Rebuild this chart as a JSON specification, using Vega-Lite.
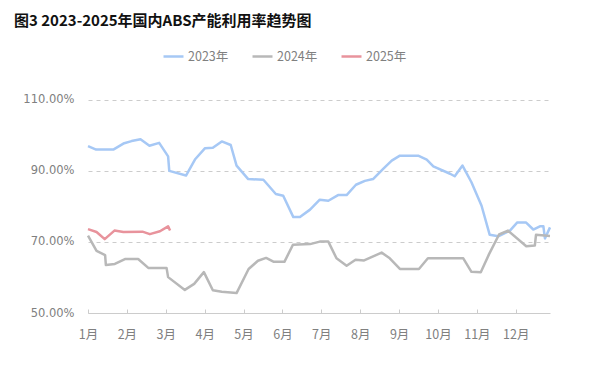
{
  "$schema": "https://vega.github.io/schema/vega-lite/v6.json",
  "autosize": "none",
  "width": 462,
  "height": 238,
  "padding": {"left": 88, "top": 75, "right": 50, "bottom": 60},
  "background": "white",
  "title": {
    "text": "图3 2023-2025年国内ABS产能利用率趋势图",
    "anchor": "start",
    "frame": "group",
    "dx": -74,
    "offset": 16,
    "font": "Noto Sans CJK SC",
    "fontSize": 15,
    "fontWeight": "bold",
    "color": "#111111"
  },
  "config": {
    "view": {"stroke": null},
    "font": "Noto Sans CJK SC"
  },
  "data": {
    "values": [
      {"year": "2023年", "t": 0.0, "v": 97.0},
      {"year": "2023年", "t": 0.21, "v": 96.0},
      {"year": "2023年", "t": 0.65, "v": 96.0},
      {"year": "2023年", "t": 0.91, "v": 97.7},
      {"year": "2023年", "t": 1.12, "v": 98.4},
      {"year": "2023年", "t": 1.35, "v": 98.9},
      {"year": "2023年", "t": 1.58, "v": 97.1},
      {"year": "2023年", "t": 1.83, "v": 97.9},
      {"year": "2023年", "t": 2.06, "v": 94.1},
      {"year": "2023年", "t": 2.09, "v": 90.0},
      {"year": "2023年", "t": 2.52, "v": 88.7},
      {"year": "2023年", "t": 2.75, "v": 93.2},
      {"year": "2023年", "t": 3.01, "v": 96.4},
      {"year": "2023年", "t": 3.21, "v": 96.5},
      {"year": "2023年", "t": 3.44, "v": 98.3},
      {"year": "2023年", "t": 3.67, "v": 97.3},
      {"year": "2023年", "t": 3.82, "v": 91.5},
      {"year": "2023年", "t": 4.12, "v": 87.7},
      {"year": "2023年", "t": 4.51, "v": 87.5},
      {"year": "2023年", "t": 4.83, "v": 83.5},
      {"year": "2023年", "t": 5.02, "v": 83.0},
      {"year": "2023年", "t": 5.28, "v": 77.0},
      {"year": "2023年", "t": 5.45, "v": 77.0},
      {"year": "2023年", "t": 5.71, "v": 79.1},
      {"year": "2023年", "t": 5.96, "v": 81.9},
      {"year": "2023年", "t": 6.18, "v": 81.6},
      {"year": "2023年", "t": 6.43, "v": 83.2},
      {"year": "2023年", "t": 6.65, "v": 83.2},
      {"year": "2023年", "t": 6.89, "v": 86.1},
      {"year": "2023年", "t": 7.12, "v": 87.2},
      {"year": "2023年", "t": 7.33, "v": 87.7},
      {"year": "2023年", "t": 7.59, "v": 90.6},
      {"year": "2023年", "t": 7.81, "v": 92.9},
      {"year": "2023年", "t": 8.02, "v": 94.3},
      {"year": "2023年", "t": 8.49, "v": 94.3},
      {"year": "2023年", "t": 8.71, "v": 93.2},
      {"year": "2023年", "t": 8.88, "v": 91.3},
      {"year": "2023年", "t": 9.31, "v": 89.2},
      {"year": "2023年", "t": 9.43, "v": 88.5},
      {"year": "2023年", "t": 9.63, "v": 91.5},
      {"year": "2023年", "t": 9.86, "v": 86.8},
      {"year": "2023年", "t": 10.12, "v": 80.2},
      {"year": "2023年", "t": 10.33, "v": 72.0},
      {"year": "2023年", "t": 10.55, "v": 71.6},
      {"year": "2023年", "t": 10.85, "v": 73.2},
      {"year": "2023年", "t": 11.04, "v": 75.5},
      {"year": "2023年", "t": 11.26, "v": 75.5},
      {"year": "2023年", "t": 11.45, "v": 73.5},
      {"year": "2023年", "t": 11.62, "v": 74.4},
      {"year": "2023年", "t": 11.71, "v": 74.4},
      {"year": "2023年", "t": 11.75, "v": 71.0},
      {"year": "2023年", "t": 11.88, "v": 74.1},
      {"year": "2024年", "t": 0.0, "v": 71.8},
      {"year": "2024年", "t": 0.22, "v": 67.5},
      {"year": "2024年", "t": 0.44, "v": 66.3},
      {"year": "2024年", "t": 0.46, "v": 63.5},
      {"year": "2024年", "t": 0.69, "v": 63.8},
      {"year": "2024年", "t": 0.95, "v": 65.2},
      {"year": "2024年", "t": 1.29, "v": 65.2},
      {"year": "2024年", "t": 1.55, "v": 62.7},
      {"year": "2024年", "t": 2.02, "v": 62.7},
      {"year": "2024年", "t": 2.06, "v": 60.1},
      {"year": "2024年", "t": 2.49, "v": 56.5},
      {"year": "2024年", "t": 2.73, "v": 58.2},
      {"year": "2024年", "t": 2.98, "v": 61.5},
      {"year": "2024年", "t": 3.21, "v": 56.4},
      {"year": "2024年", "t": 3.44, "v": 56.0},
      {"year": "2024年", "t": 3.82, "v": 55.6},
      {"year": "2024年", "t": 4.13, "v": 62.4},
      {"year": "2024年", "t": 4.37, "v": 64.7},
      {"year": "2024年", "t": 4.58, "v": 65.5},
      {"year": "2024年", "t": 4.78, "v": 64.4},
      {"year": "2024年", "t": 5.05, "v": 64.4},
      {"year": "2024年", "t": 5.27, "v": 69.2},
      {"year": "2024年", "t": 5.71, "v": 69.4},
      {"year": "2024年", "t": 5.96, "v": 70.1},
      {"year": "2024年", "t": 6.18, "v": 70.1},
      {"year": "2024年", "t": 6.39, "v": 65.4},
      {"year": "2024年", "t": 6.65, "v": 63.3},
      {"year": "2024年", "t": 6.88, "v": 65.0},
      {"year": "2024年", "t": 7.10, "v": 64.8},
      {"year": "2024年", "t": 7.55, "v": 67.0},
      {"year": "2024年", "t": 7.76, "v": 65.4},
      {"year": "2024年", "t": 8.02, "v": 62.4},
      {"year": "2024年", "t": 8.51, "v": 62.4},
      {"year": "2024年", "t": 8.74, "v": 65.4},
      {"year": "2024年", "t": 9.65, "v": 65.4},
      {"year": "2024年", "t": 9.86, "v": 61.6},
      {"year": "2024年", "t": 10.10, "v": 61.5},
      {"year": "2024年", "t": 10.31, "v": 66.5},
      {"year": "2024年", "t": 10.57, "v": 72.1},
      {"year": "2024年", "t": 10.80, "v": 73.2},
      {"year": "2024年", "t": 11.27, "v": 68.8},
      {"year": "2024年", "t": 11.49, "v": 69.0},
      {"year": "2024年", "t": 11.52, "v": 72.0},
      {"year": "2024年", "t": 11.88, "v": 71.7},
      {"year": "2025年", "t": 0.0, "v": 73.6},
      {"year": "2025年", "t": 0.22, "v": 72.8},
      {"year": "2025年", "t": 0.43, "v": 70.8},
      {"year": "2025年", "t": 0.68, "v": 73.2},
      {"year": "2025年", "t": 0.91, "v": 72.8},
      {"year": "2025年", "t": 1.40, "v": 72.9},
      {"year": "2025年", "t": 1.59, "v": 72.2},
      {"year": "2025年", "t": 1.85, "v": 73.0},
      {"year": "2025年", "t": 2.06, "v": 74.4},
      {"year": "2025年", "t": 2.11, "v": 73.2}
    ]
  },
  "mark": {"type": "line", "strokeWidth": 2.5, "strokeJoin": "round"},
  "encoding": {
    "x": {
      "field": "t",
      "type": "quantitative",
      "scale": {"domain": [0, 11.88], "nice": false, "zero": false},
      "axis": {
        "title": null,
        "values": [0, 1, 2, 3, 4, 5, 6, 7, 8, 9, 10, 11],
        "labelExpr": "(datum.value + 1) + '月'",
        "labelFlush": false,
        "grid": false,
        "domainColor": "#cccccc",
        "domainWidth": 1,
        "tickColor": "#cccccc",
        "tickSize": -4,
        "labelPadding": 19,
        "labelFontSize": 12.5,
        "labelColor": "#808080",
        "labelFont": "Noto Sans CJK SC"
      }
    },
    "y": {
      "field": "v",
      "type": "quantitative",
      "scale": {"domain": [50, 117], "nice": false, "zero": false},
      "axis": {
        "title": null,
        "values": [50, 70, 90, 110],
        "labelExpr": "format(datum.value, '.2f') + '%'",
        "domain": false,
        "ticks": false,
        "grid": true,
        "gridColor": "#cccccc",
        "gridDash": [4, 4],
        "gridWidth": 1,
        "labelPadding": 14,
        "labelFontSize": 11.5,
        "labelColor": "#808080",
        "labelFont": "DejaVu Sans"
      }
    },
    "color": {
      "field": "year",
      "type": "nominal",
      "scale": {
        "domain": ["2023年", "2024年", "2025年"],
        "range": ["#a6c8f5", "#b8b8b8", "#e8939c"]
      },
      "legend": {
        "title": null,
        "orient": "none",
        "direction": "horizontal",
        "legendX": 74,
        "legendY": -30,
        "symbolType": "stroke",
        "symbolSize": 400,
        "symbolStrokeWidth": 2.5,
        "labelFontSize": 12.5,
        "labelColor": "#808080",
        "labelFont": "Noto Sans CJK SC",
        "columnPadding": 18,
        "labelOffset": 3
      }
    }
  }
}
